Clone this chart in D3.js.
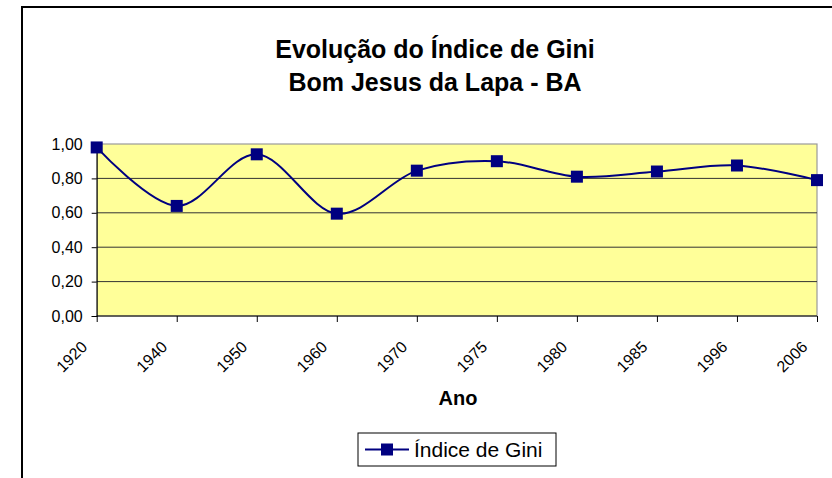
<!DOCTYPE html>
<html>
<head>
<meta charset="utf-8">
<script src="https://cdn.jsdelivr.net/npm/d3@7"></script>
<style>
  body { margin: 0; background: #fff; }
  svg { display: block; font-family: Arial, "Liberation Sans", sans-serif; }
</style>
</head>
<body>
<div id="container"></div>
<script>
const years = ["1920", "1940", "1950", "1960", "1970", "1975", "1980", "1985", "1996", "2006"];
const gini = [0.98, 0.64, 0.94, 0.595, 0.845, 0.90, 0.81, 0.84, 0.875, 0.79];
const yTicks = [0, 0.2, 0.4, 0.6, 0.8, 1.0];

const width = 832, height = 478;
const font = "Arial, 'Liberation Sans', sans-serif";
const svg = d3.select("#container").append("svg").attr("width", width).attr("height", height);

// outer chart border (runs off the right / bottom edge)
svg.append("rect")
  .attr("x", 22).attr("y", 7)
  .attr("width", 900).attr("height", 600)
  .attr("fill", "#fff").attr("stroke", "#000").attr("stroke-width", 2);

const plot = { left: 96.7, right: 817, top: 144, bottom: 316 };

const x = d3.scalePoint().domain(years).range([plot.left, plot.right]);
const y = d3.scaleLinear().domain([0, 1]).range([plot.bottom, plot.top]);

// plot area
svg.append("rect")
  .attr("x", plot.left).attr("y", plot.top)
  .attr("width", plot.right - plot.left).attr("height", plot.bottom - plot.top)
  .attr("fill", "#ffff99").attr("stroke", "#9a9a9a").attr("stroke-width", 1.2);

// gridlines
svg.append("g").selectAll("line")
  .data(yTicks.filter(d => d > 0 && d < 1))
  .enter().append("line")
  .attr("x1", plot.left).attr("x2", plot.right)
  .attr("y1", d => y(d)).attr("y2", d => y(d))
  .attr("stroke", "#333").attr("stroke-width", 1);

// y axis
const yAxis = svg.append("g")
  .attr("transform", `translate(${plot.left},0)`)
  .call(d3.axisLeft(y).tickValues(yTicks).tickSize(5).tickPadding(9)
    .tickFormat(d => d3.format(".2f")(d).replace(".", ",")));
yAxis.select(".domain").attr("stroke", "#000");
yAxis.selectAll(".tick line").attr("stroke", "#000");
yAxis.selectAll("text").attr("font-size", 16).attr("fill", "#000").attr("font-family", font);

// x axis
const xAxis = svg.append("g")
  .attr("transform", `translate(0,${plot.bottom})`)
  .call(d3.axisBottom(x).tickSize(6).tickSizeOuter(0));
xAxis.select(".domain").attr("stroke", "#000").attr("d", `M${plot.left},0H${plot.right}`);
xAxis.selectAll(".tick line").attr("stroke", "#000");
xAxis.selectAll("text")
  .attr("font-size", 16).attr("fill", "#000").attr("font-family", font)
  .attr("text-anchor", "end")
  .attr("x", 0).attr("y", 0).attr("dy", 0)
  .attr("transform", "translate(-9,32) rotate(-45)");

// series line
const line = d3.line()
  .x((d, i) => x(years[i]))
  .y(d => y(d))
  .curve(d3.curveCardinal.tension(0));

svg.append("path")
  .datum(gini)
  .attr("d", line)
  .attr("fill", "none")
  .attr("stroke", "#000080")
  .attr("stroke-width", 2);

svg.append("g").selectAll("rect")
  .data(gini)
  .enter().append("rect")
  .attr("x", (d, i) => x(years[i]) - 6)
  .attr("y", d => y(d) - 6)
  .attr("width", 12).attr("height", 12)
  .attr("fill", "#000080");

// title
const title = svg.append("text")
  .attr("text-anchor", "middle")
  .attr("font-size", 25).attr("font-weight", "bold").attr("fill", "#000");
title.append("tspan").attr("x", 435).attr("y", 58).text("Evolução do Índice de Gini");
title.append("tspan").attr("x", 435).attr("y", 91).text("Bom Jesus da Lapa - BA");

// x axis title
svg.append("text")
  .attr("x", 458).attr("y", 405)
  .attr("text-anchor", "middle")
  .attr("font-size", 20).attr("font-weight", "bold")
  .text("Ano");

// legend
const legend = svg.append("g").attr("transform", "translate(358,433)");
legend.append("rect")
  .attr("width", 198).attr("height", 33)
  .attr("fill", "#fff").attr("stroke", "#000").attr("stroke-width", 1);
legend.append("line")
  .attr("x1", 7).attr("x2", 51).attr("y1", 16.5).attr("y2", 16.5)
  .attr("stroke", "#000080").attr("stroke-width", 2);
legend.append("rect")
  .attr("x", 23).attr("y", 10.5).attr("width", 12).attr("height", 12)
  .attr("fill", "#000080");
legend.append("text")
  .attr("x", 56).attr("y", 24)
  .attr("font-size", 21)
  .text("Índice de Gini");
</script>
</body>
</html>
